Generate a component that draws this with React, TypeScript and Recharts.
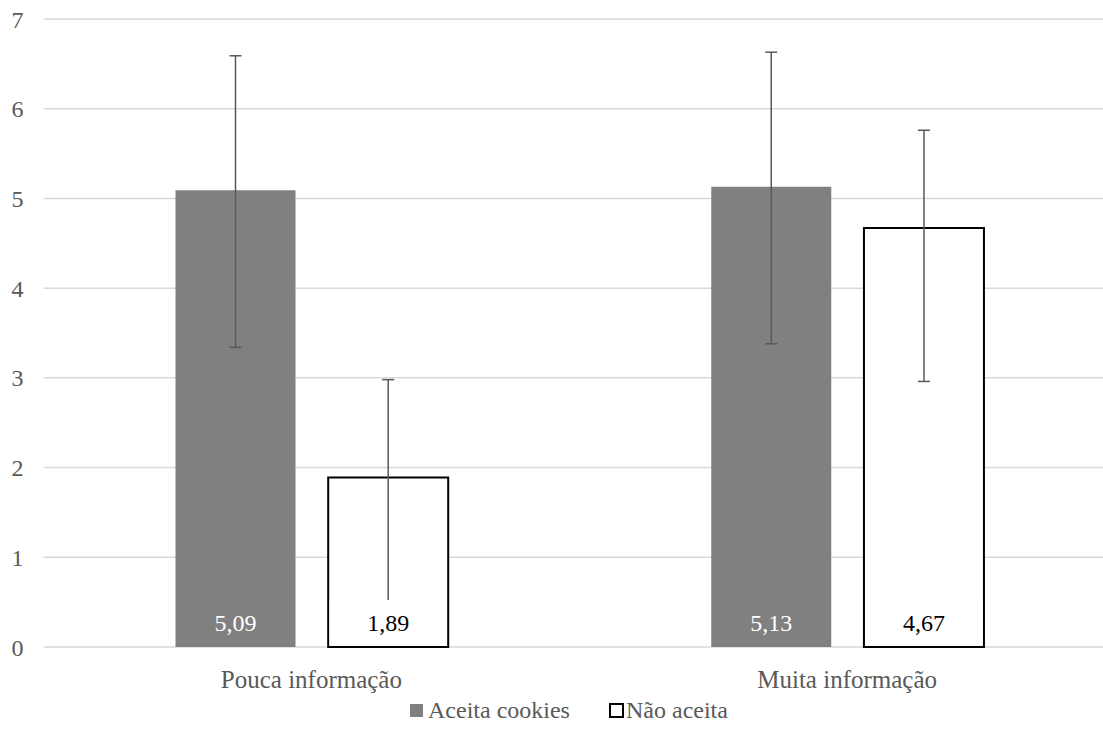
import { BarChart, Bar, XAxis, YAxis, CartesianGrid, ErrorBar, LabelList } from "recharts";

const categories = ["Pouca informação", "Muita informação"];
const aceita = [5.09, 5.13];
const naoAceita = [1.89, 4.67];
const aceitaErrLow = [1.75, 1.75];
const aceitaErrHigh = [1.5, 1.5];
const naoErrLow = [1.71, 1.71];
const naoErrHigh = [1.09, 1.09];
const yTicks = [0, 1, 2, 3, 4, 5, 6, 7];

const data = categories.map((name, i) => ({
  name,
  aceita: aceita[i],
  nao: naoAceita[i],
  aceitaErr: [aceitaErrLow[i], aceitaErrHigh[i]],
  naoErr: [naoErrLow[i], naoErrHigh[i]],
}));

// no serif face in the sandbox, sizes tuned to match the reference widths
const FONT = "Liberation Serif, Liberation Sans, Arial, sans-serif";
const GRAY = "#808080";
const TEXT = "#595959";

const fmt = (v: number) => v.toFixed(2).replace(".", ",");

function makeLabel(fill: string, color: string) {
  return (props: any) => {
    const { x, y, width, height, value } = props;
    const bottom = y + height;
    return (
      <g>
        <rect x={x + 1.5} y={bottom - 47} width={width - 3} height={46} fill={fill} />
        <text
          x={x + width / 2}
          y={bottom - 16}
          textAnchor="middle"
          fill={color}
          style={{ fontSize: 24, fontFamily: FONT }}
        >
          {fmt(value)}
        </text>
      </g>
    );
  };
}

export default function App() {
  return (
    <div
      style={{
        position: "absolute",
        left: 0,
        top: 0,
        width: 1103,
        height: 743,
        overflow: "hidden",
        background: "#fff",
        fontFamily: FONT,
      }}
    >
      <BarChart
        width={1115}
        height={743}
        data={data}
        margin={{ top: 19, right: 0, left: 0, bottom: 66 }}
        barSize={120}
        barGap={32.7}
        style={{ fontFamily: FONT }}
      >
        <CartesianGrid vertical={false} stroke="#d9d9d9" strokeWidth={1.5} />
        <XAxis
          dataKey="name"
          height={30}
          axisLine={false}
          tickLine={false}
          tickMargin={17}
          tick={{ fill: TEXT, fontSize: 25, style: { fontFamily: FONT } }}
        />
        <YAxis
          width={43.5}
          domain={[0, 7]}
          ticks={yTicks}
          axisLine={false}
          tickLine={false}
          tickMargin={14}
          tick={{ fill: TEXT, fontSize: 24, style: { fontFamily: FONT } }}
        />
        <Bar dataKey="aceita" fill={GRAY} isAnimationActive={false}>
          <ErrorBar dataKey="aceitaErr" width={6} stroke="#595959" strokeWidth={1.5} />
          <LabelList dataKey="aceita" content={makeLabel(GRAY, "#ffffff")} />
        </Bar>
        <Bar dataKey="nao" fill="#ffffff" stroke="#000000" strokeWidth={2} isAnimationActive={false}>
          <ErrorBar dataKey="naoErr" width={6} stroke="#595959" strokeWidth={1.5} />
          <LabelList dataKey="nao" content={makeLabel("#ffffff", "#000000")} />
        </Bar>
      </BarChart>
      <div
        style={{
          position: "absolute",
          top: 697,
          left: 410,
          display: "flex",
          alignItems: "center",
          fontSize: 24,
          color: TEXT,
          whiteSpace: "nowrap",
        }}
      >
        <span style={{ width: 13, height: 13, background: GRAY, marginRight: 5 }} />
        <span style={{ width: 152 }}>Aceita cookies</span>
        <span
          style={{
            width: 11,
            height: 11,
            border: "2px solid #000",
            marginLeft: 29,
            marginRight: 2,
          }}
        />
        <span>Não aceita</span>
      </div>
    </div>
  );
}
